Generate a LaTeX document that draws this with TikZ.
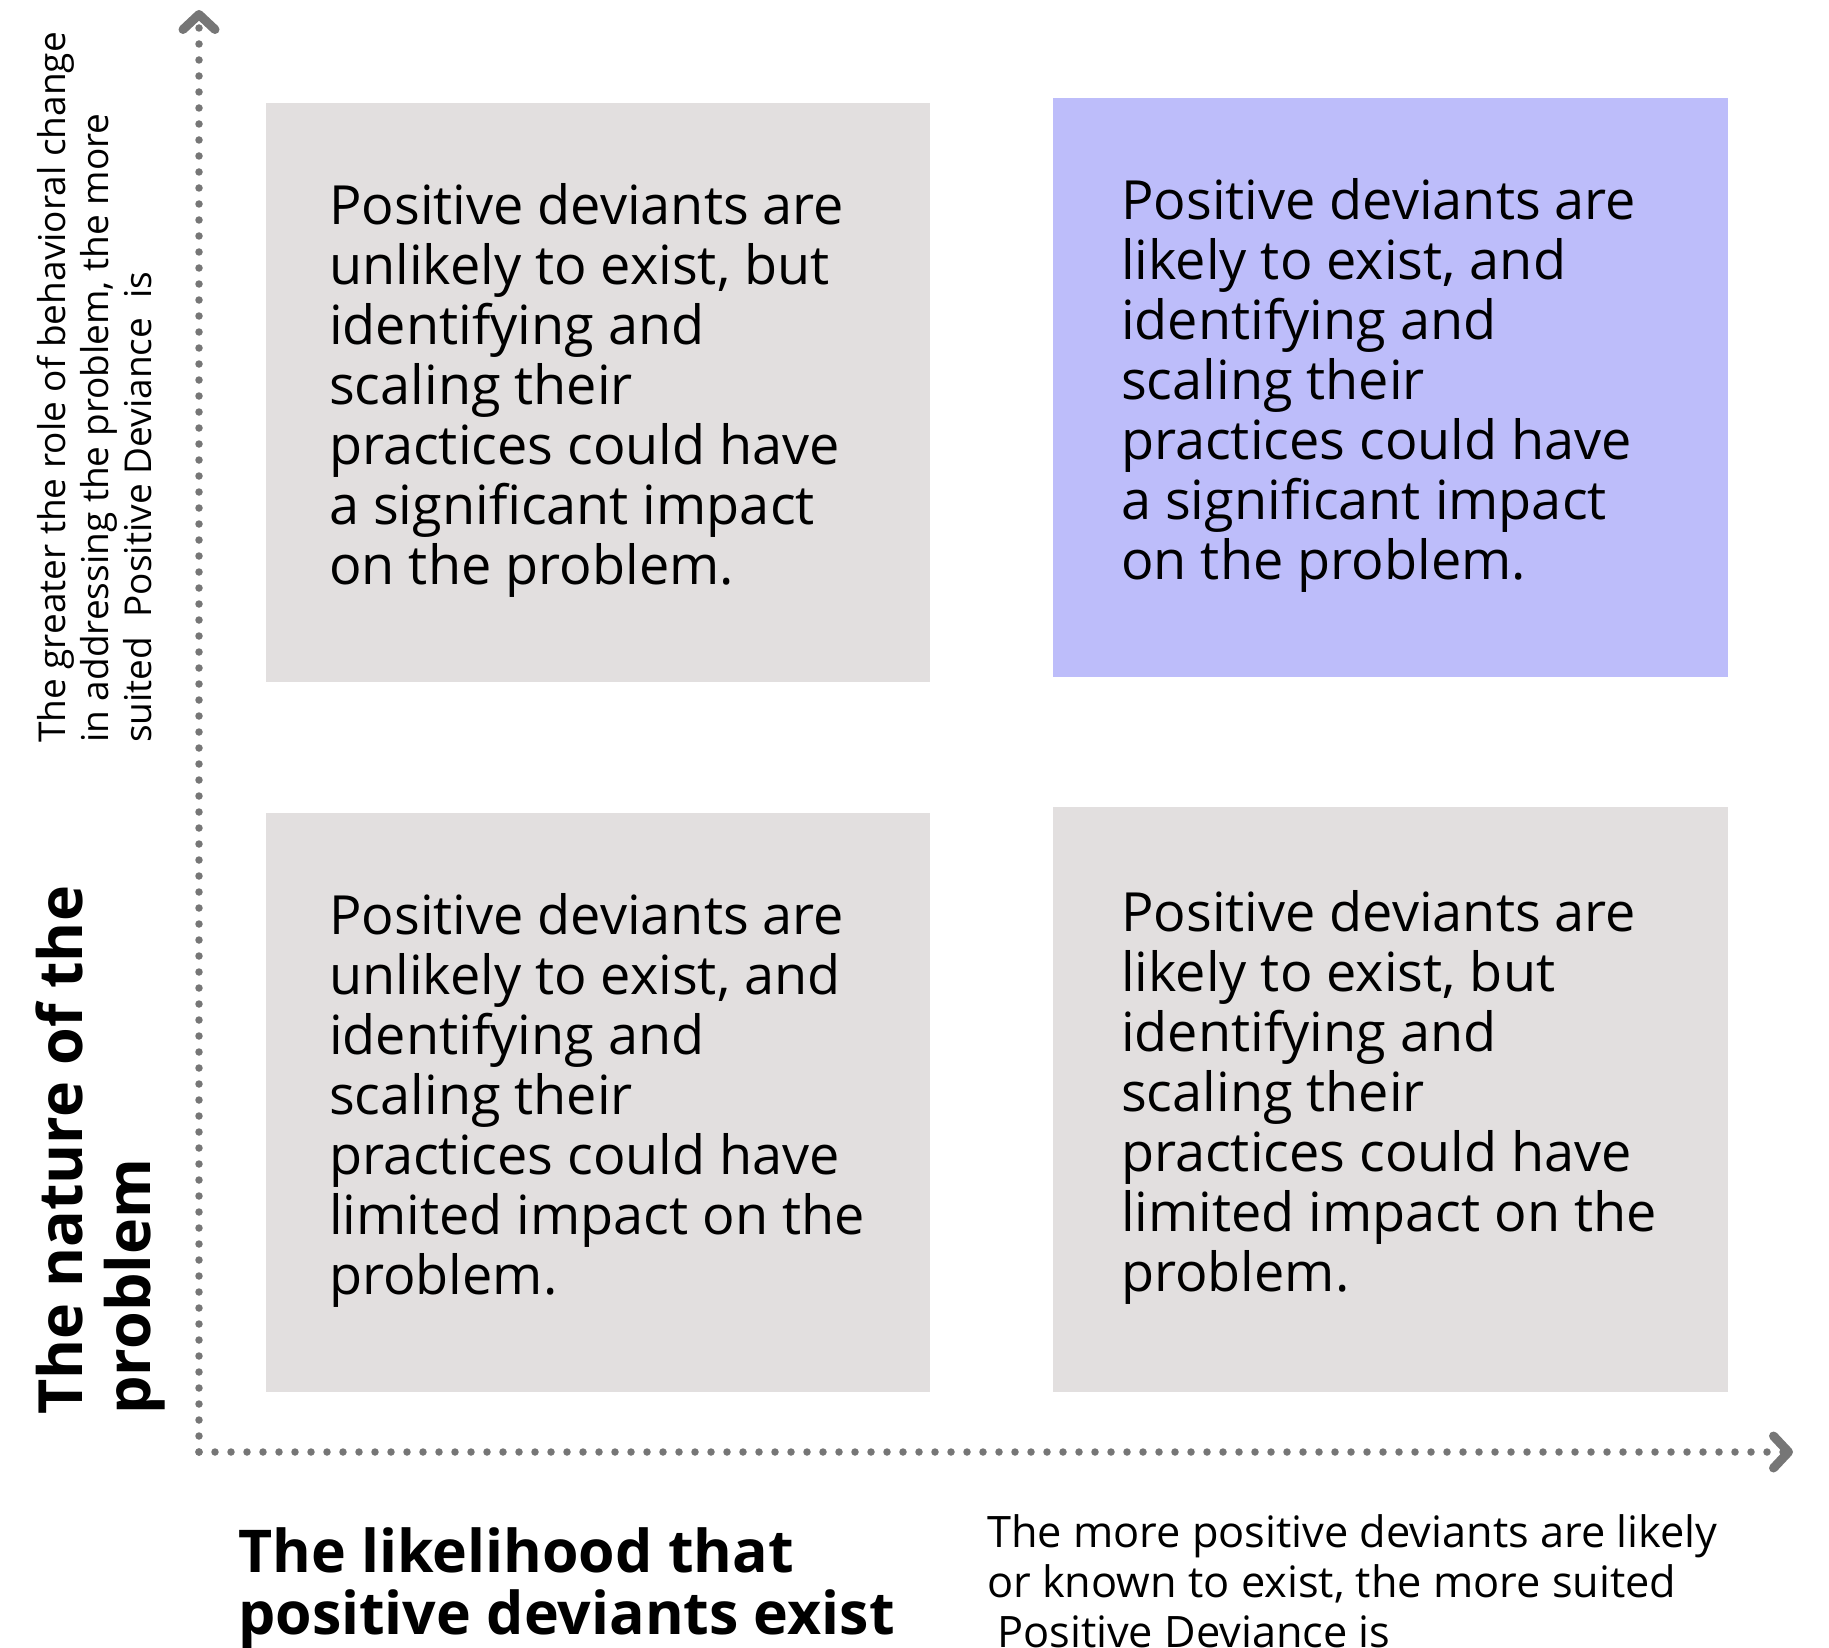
\documentclass[tikz,border=0pt]{standalone}
\usepackage{fontspec}
\setmainfont{Open Sans}
\usetikzlibrary{arrows.meta}
\definecolor{boxgray}{HTML}{E2DFDF}
\definecolor{boxpurple}{HTML}{BDBDFA}
\definecolor{axisgray}{HTML}{767676}
\begin{document}
\begin{tikzpicture}[x=1pt,y=-1pt,
  quad/.style={minimum height=579pt, inner sep=0pt, anchor=north west, draw=none},
  quadtext/.style={anchor=west, align=left, inner sep=0pt, font=\fontsize{54}{60}\selectfont, text=black},
  axisline/.style={axisgray, line width=7.5pt, line cap=round, dash pattern=on 0pt off 16pt,
    -{Straight Barb[length=15pt,width=32pt,line width=9pt,round]}},
  smalllab/.style={align=left, inner sep=0pt, font=\fontsize{37}{43}\selectfont, text=black},
  boldlab/.style={align=left, inner sep=0pt, font=\fontsize{61}{68}\selectfont\bfseries, text=black}
]
\useasboundingbox (0,0) rectangle (1829,1648);

% quadrants
\node[quad, fill=boxgray, minimum width=664pt] (bTL) at (266,103) {};
\node[quad, fill=boxpurple, minimum width=675pt] (bTR) at (1053,98) {};
\node[quad, fill=boxgray, minimum width=664pt] (bBL) at (266,813) {};
\node[quad, fill=boxgray, minimum width=675pt, minimum height=585pt] (bBR) at (1053,807) {};

\node[quadtext] (tTL) at ([xshift=63pt,yshift=2pt]bTL.west) {Positive deviants are\\unlikely to exist, but\\identifying and\\scaling their\\practices could have\\a significant impact\\on the problem.};
\node[quadtext] (tTR) at ([xshift=68pt,yshift=2pt]bTR.west) {Positive deviants are\\likely to exist, and\\identifying and\\scaling their\\practices could have\\a significant impact\\on the problem.};
\node[quadtext] (tBL) at ([xshift=63pt,yshift=2pt]bBL.west) {Positive deviants are\\unlikely to exist, and\\identifying and\\scaling their\\practices could have\\limited impact on the\\problem.};
\node[quadtext] (tBR) at ([xshift=68pt,yshift=2pt]bBR.west) {Positive deviants are\\likely to exist, but\\identifying and\\scaling their\\practices could have\\limited impact on the\\problem.};

% axes
\coordinate (O) at (199,1452);
\coordinate (Ytop) at (199,10);
\coordinate (Xend) at (1793,1452);
\draw[axisline] (O) -- (Ytop);
\draw[axisline] (O) -- (Xend);

% axis labels
\node[smalllab, rotate=90, anchor=north west] (ydesc) at (37,743) {The greater the role of behavioral change\\in addressing the problem, the more\\suited\ \ Positive Deviance\ \ is};
\node[boldlab, rotate=90, anchor=north west] (ytitle) at (36,1415) {The nature of the\\problem};
\node[boldlab, anchor=north west, font=\fontsize{59}{62}\selectfont\bfseries] (xtitle) at (238,1527) {The likelihood that\\positive deviants exist};
\node[smalllab, anchor=north west, font=\fontsize{43.3}{50}\selectfont] (xdesc) at (987,1514) {The more positive deviants are likely\\or known to exist, the more suited\\\hspace*{10pt}Positive Deviance is};
\end{tikzpicture}
\end{document}
